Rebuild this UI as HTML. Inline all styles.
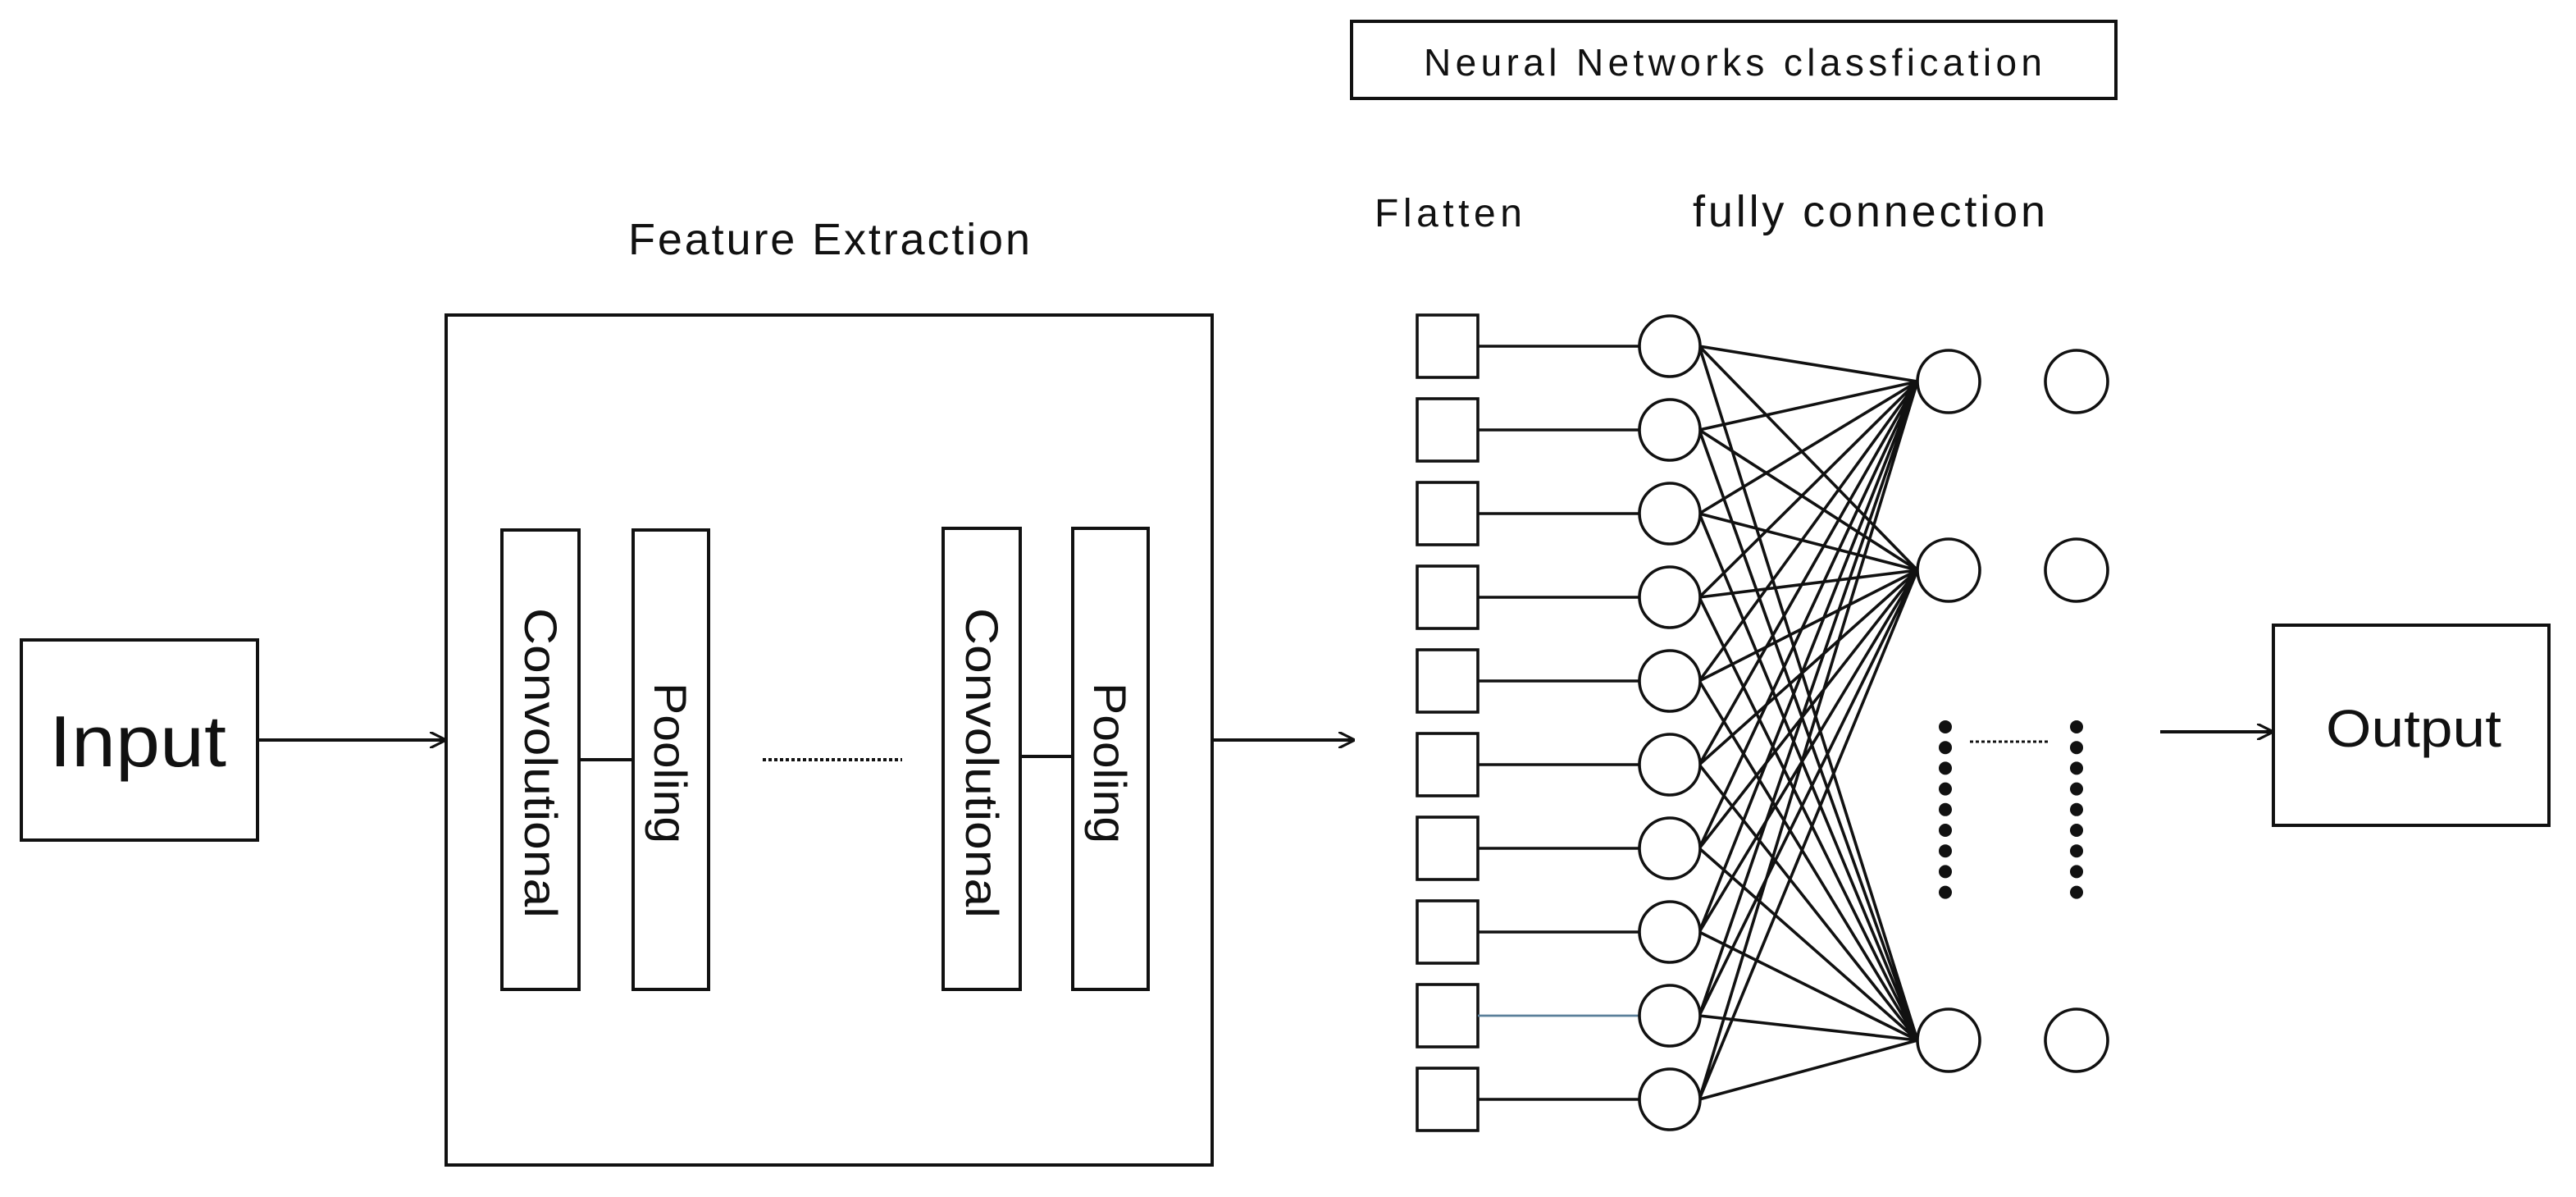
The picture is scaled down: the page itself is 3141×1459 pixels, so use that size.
<!DOCTYPE html>
<html><head><meta charset="utf-8"><style>
html,body{margin:0;padding:0;background:#fff;}
svg{display:block;}
text{font-family:"Liberation Sans",sans-serif;fill:#111;}
</style></head><body>
<svg width="3141" height="1459" viewBox="0 0 1570.5 729.5" xmlns="http://www.w3.org/2000/svg">
<defs>
<marker id="ah" viewBox="0 0 10 10" refX="9" refY="5" markerWidth="10" markerHeight="10" markerUnits="userSpaceOnUse" orient="auto">
<path d="M0,0 L10,5 L0,10" fill="none" stroke="#111" stroke-width="1.6"/>
</marker>
</defs>
<g fill="none" stroke="#111" stroke-width="2">
<rect x="824" y="13" width="466" height="47"/>
<rect x="272" y="192" width="467" height="518"/>
<rect x="13" y="390" width="144" height="122"/>
<rect x="306" y="323" width="47" height="280"/>
<rect x="386" y="323" width="46" height="280"/>
<rect x="575" y="322" width="47" height="281"/>
<rect x="654" y="322" width="46" height="281"/>
<rect x="1386" y="381" width="168" height="122"/>
<line x1="157" y1="451" x2="271" y2="451" marker-end="url(#ah)"/>
<line x1="739" y1="451" x2="825" y2="451" marker-end="url(#ah)"/>
<line x1="1317" y1="446" x2="1385" y2="446" marker-end="url(#ah)"/>
<line x1="353" y1="463" x2="386" y2="463"/>
<line x1="622" y1="461" x2="654" y2="461"/>
<line x1="465" y1="463" x2="550" y2="463" stroke-dasharray="2,1.5"/>
<line x1="1201" y1="452" x2="1250" y2="452" stroke-dasharray="2,1.5" stroke-width="1.5"/>
</g>
<g fill="none" stroke="#111" stroke-width="1.8">
<rect x="864" y="192" width="37" height="38"/>
<rect x="864" y="243" width="37" height="38"/>
<rect x="864" y="294" width="37" height="38"/>
<rect x="864" y="345" width="37" height="38"/>
<rect x="864" y="396" width="37" height="38"/>
<rect x="864" y="447" width="37" height="38"/>
<rect x="864" y="498" width="37" height="38"/>
<rect x="864" y="549" width="37" height="38"/>
<rect x="864" y="600" width="37" height="38"/>
<rect x="864" y="651" width="37" height="38"/>
<path d="M901 211H999M901 262H999M901 313H999M901 364H999M901 415H999M901 466H999M901 517H999M901 568H999M901 670H999"/>
<path d="M901 619H999" stroke="#5a7f9a" stroke-width="1.4"/>
<path d="M1036 211L1169 232.5M1036 211L1169 347.5M1036 211L1169 634
M1036 262L1169 232.5M1036 262L1169 347.5M1036 262L1169 634
M1036 313L1169 232.5M1036 313L1169 347.5M1036 313L1169 634
M1036 364L1169 232.5M1036 364L1169 347.5M1036 364L1169 634
M1036 415L1169 232.5M1036 415L1169 347.5M1036 415L1169 634
M1036 466L1169 232.5M1036 466L1169 347.5M1036 466L1169 634
M1036 517L1169 232.5M1036 517L1169 347.5M1036 517L1169 634
M1036 568L1169 232.5M1036 568L1169 347.5M1036 568L1169 634
M1036 619L1169 232.5M1036 619L1169 347.5M1036 619L1169 634
M1036 670L1169 232.5M1036 670L1169 347.5M1036 670L1169 634"/>
<g fill="#fff">
<circle cx="1018" cy="211" r="18.5"/><circle cx="1018" cy="262" r="18.5"/><circle cx="1018" cy="313" r="18.5"/><circle cx="1018" cy="364" r="18.5"/><circle cx="1018" cy="415" r="18.5"/><circle cx="1018" cy="466" r="18.5"/><circle cx="1018" cy="517" r="18.5"/><circle cx="1018" cy="568" r="18.5"/><circle cx="1018" cy="619" r="18.5"/><circle cx="1018" cy="670" r="18.5"/>
<circle cx="1188" cy="232.5" r="19"/><circle cx="1188" cy="347.5" r="19"/><circle cx="1188" cy="634" r="19"/>
<circle cx="1266" cy="232.5" r="19"/><circle cx="1266" cy="347.5" r="19"/><circle cx="1266" cy="634" r="19"/>
</g>
</g>
<g fill="#111">
<circle cx="1186" cy="443" r="4"/><circle cx="1186" cy="455.6" r="4"/><circle cx="1186" cy="468.2" r="4"/><circle cx="1186" cy="480.8" r="4"/><circle cx="1186" cy="493.4" r="4"/><circle cx="1186" cy="506" r="4"/><circle cx="1186" cy="518.6" r="4"/><circle cx="1186" cy="531.2" r="4"/><circle cx="1186" cy="543.8" r="4"/>
<circle cx="1266" cy="443" r="4"/><circle cx="1266" cy="455.6" r="4"/><circle cx="1266" cy="468.2" r="4"/><circle cx="1266" cy="480.8" r="4"/><circle cx="1266" cy="493.4" r="4"/><circle cx="1266" cy="506" r="4"/><circle cx="1266" cy="518.6" r="4"/><circle cx="1266" cy="531.2" r="4"/><circle cx="1266" cy="543.8" r="4"/>
</g>
<text x="868" y="46" font-size="23" textLength="377" lengthAdjust="spacing">Neural Networks classfication</text>
<text x="383" y="155" font-size="27" textLength="245" lengthAdjust="spacing">Feature Extraction</text>
<text x="838" y="138" font-size="24" textLength="90" lengthAdjust="spacing">Flatten</text>
<text x="1032" y="138" font-size="27" textLength="215" lengthAdjust="spacing">fully connection</text>
<text x="30" y="467" font-size="44" textLength="108" lengthAdjust="spacingAndGlyphs">Input</text>
<text x="1418" y="455" font-size="32" textLength="107" lengthAdjust="spacingAndGlyphs">Output</text>
<text transform="translate(320,465) rotate(90)" font-size="28" text-anchor="middle" textLength="189" lengthAdjust="spacingAndGlyphs">Convolutional</text>
<text transform="translate(399,465) rotate(90)" font-size="28" text-anchor="middle" textLength="98" lengthAdjust="spacingAndGlyphs">Pooling</text>
<text transform="translate(589,465) rotate(90)" font-size="28" text-anchor="middle" textLength="189" lengthAdjust="spacingAndGlyphs">Convolutional</text>
<text transform="translate(667,465) rotate(90)" font-size="28" text-anchor="middle" textLength="98" lengthAdjust="spacingAndGlyphs">Pooling</text>
</svg>
</body></html>
